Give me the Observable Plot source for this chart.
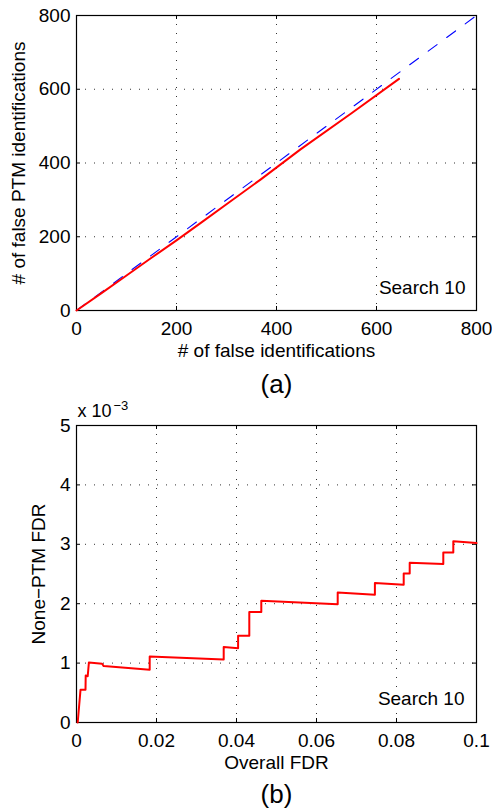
<!DOCTYPE html>
<html>
<head>
<meta charset="utf-8">
<script src="https://cdn.jsdelivr.net/npm/d3@7"></script>
<script src="https://cdn.jsdelivr.net/npm/@observablehq/plot@0.6"></script>
<style>
  html, body { margin: 0; padding: 0; background: #fff; }
  svg { display: block; }
</style>
</head>
<body>
<div id="chart"></div>
<script>
// ---- Panel (a) data ----
const falseIds      = [0, 50, 100, 150, 200, 250, 300, 368, 448, 550, 645];
const falsePtmIds   = [0, 47, 95, 143, 190, 239, 288, 355, 437, 535, 628];
const diagX         = [0, 800];
const diagY         = [0, 800];
const ticksA        = [0, 200, 400, 600, 800];

// ---- Panel (b) data (None-PTM FDR in units of 1e-3) ----
const overallFdr = [0.0003, 0.001, 0.00225, 0.0023, 0.0028, 0.0031, 0.0064, 0.0068, 0.0183,
  0.0183, 0.0368, 0.0368, 0.0404, 0.0404, 0.0432, 0.0432, 0.0462, 0.0462, 0.0653,
  0.0653, 0.0746, 0.0746, 0.0818, 0.0818, 0.0833, 0.0833, 0.0917, 0.0917, 0.0942, 0.0942, 0.1];
const nonePtmFdr = [0, 0.55, 0.55, 0.79, 0.78, 1.01, 0.99, 0.95, 0.89,
  1.11, 1.06, 1.27, 1.25, 1.46, 1.46, 1.86, 1.86, 2.05, 1.99,
  2.19, 2.15, 2.35, 2.32, 2.51, 2.51, 2.69, 2.67, 2.86, 2.86, 3.05, 3.02];
const ticksBX = [0, 0.02, 0.04, 0.06, 0.08, 0.1];
const ticksBY = [0, 1, 2, 3, 4, 5];

const FONT = "Liberation Sans, Arial, Helvetica, sans-serif";
const W = 492, ML = 76, MR = 16;

function frameMarks(xt, yt, fh, fw, xfmt, yfmt) {
  const inner = 4;
  return [
    Plot.gridX(xt.slice(1, -1), {stroke: "#000", strokeOpacity: 0.8, strokeWidth: 1, strokeDasharray: "1,8"}),
    Plot.gridY(yt.slice(1, -1), {stroke: "#000", strokeOpacity: 0.8, strokeWidth: 1, strokeDasharray: "1,8"}),
    Plot.ruleX(xt, {x: d => d, insetTop: fh - inner, stroke: "#000"}),
    Plot.ruleX(xt, {x: d => d, insetBottom: fh - inner, stroke: "#000"}),
    Plot.ruleY(yt, {y: d => d, insetRight: fw - inner, stroke: "#000"}),
    Plot.ruleY(yt, {y: d => d, insetLeft: fw - inner, stroke: "#000"}),
    Plot.axisX({anchor: "bottom", ticks: xt, tickSize: 0, tickPadding: 11, tickFormat: xfmt, fontSize: 19, fill: "#000"}),
    Plot.axisY({anchor: "left", ticks: yt, tickSize: 0, tickPadding: 6, tickFormat: yfmt, fontSize: 19, fill: "#000"}),
    Plot.frame({stroke: "#000", strokeWidth: 1.2})
  ];
}

// ---- Panel (a) ----
const hA = 395, mtA = 15, mbA = 85;
const fhA = hA - mtA - mbA, fw = W - ML - MR;
const lineA = falseIds.map((x, i) => ({x, y: falsePtmIds[i]}));
const diag = diagX.map((x, i) => ({x, y: diagY[i]}));

const plotA = Plot.plot({
  width: W, height: hA, marginTop: mtA, marginBottom: mbA, marginLeft: ML, marginRight: MR,
  style: {fontFamily: FONT, fontSize: "19px", color: "#000", background: "#fff", overflow: "visible"},
  x: {domain: [0, 800], label: null},
  y: {domain: [0, 800], label: null},
  marks: [
    ...frameMarks(ticksA, ticksA, fhA, fw, d3.format("d"), d3.format("d")),
    Plot.line(diag, {x: "x", y: "y", stroke: "#0000ff", strokeWidth: 1.1, strokeDasharray: "11,12"}),
    Plot.line(lineA, {x: "x", y: "y", stroke: "#ff0000", strokeWidth: 2}),
    Plot.text(["Search 10"], {frameAnchor: "bottom-right", textAnchor: "end", lineAnchor: "middle", dx: -11, dy: -23, fontSize: 19, fill: "#000"}),
    Plot.text(["# of false identifications"], {frameAnchor: "bottom", textAnchor: "middle", lineAnchor: "middle", dy: 40, fontSize: 19, fill: "#000"}),
    Plot.text(["# of false PTM identifications"], {frameAnchor: "left", rotate: -90, textAnchor: "middle", lineAnchor: "middle", dx: -58, fontSize: 19, fill: "#000"}),
    Plot.text(["(a)"], {frameAnchor: "bottom", textAnchor: "middle", lineAnchor: "middle", dy: 74, fontSize: 26, fill: "#000"})
  ]
});

// ---- Panel (b) ----
const hB = 413, mtB = 30, mbB = 86;
const fhB = hB - mtB - mbB;
const lineB = overallFdr.map((x, i) => ({x, y: nonePtmFdr[i]}));

const plotB = Plot.plot({
  width: W, height: hB, marginTop: mtB, marginBottom: mbB, marginLeft: ML, marginRight: MR,
  style: {fontFamily: FONT, fontSize: "19px", color: "#000", background: "#fff"},
  x: {domain: [0, 0.1], label: null},
  y: {domain: [0, 5], label: null},
  marks: [
    ...frameMarks(ticksBX, ticksBY, fhB, fw, d => d === 0 ? "0" : String(+d.toFixed(2)), d3.format("d")),
    Plot.line(lineB, {x: "x", y: "y", stroke: "#ff0000", strokeWidth: 2}),
    Plot.text(["Search 10"], {frameAnchor: "bottom-right", textAnchor: "end", lineAnchor: "middle", dx: -12, dy: -24, fontSize: 19, fill: "#000"}),
    Plot.text(["Overall FDR"], {frameAnchor: "bottom", textAnchor: "middle", lineAnchor: "middle", dy: 40, fontSize: 19, fill: "#000"}),
    Plot.text(["None\u2212PTM FDR"], {frameAnchor: "left", rotate: -90, textAnchor: "middle", lineAnchor: "middle", dx: -38, fontSize: 19, fill: "#000"}),
    Plot.text(["(b)"], {frameAnchor: "bottom", textAnchor: "middle", lineAnchor: "middle", dy: 72, fontSize: 26, fill: "#000"}),
    Plot.text(["x 10"], {frameAnchor: "top-left", textAnchor: "start", lineAnchor: "middle", dx: 1, dy: -14, fontSize: 18, fill: "#000"}),
    Plot.text(["\u22123"], {frameAnchor: "top-left", textAnchor: "start", lineAnchor: "middle", dx: 37, dy: -20, fontSize: 13, fill: "#000"})
  ]
});

const root = document.getElementById("chart");
root.appendChild(plotA);
root.appendChild(plotB);
</script>
</body>
</html>
